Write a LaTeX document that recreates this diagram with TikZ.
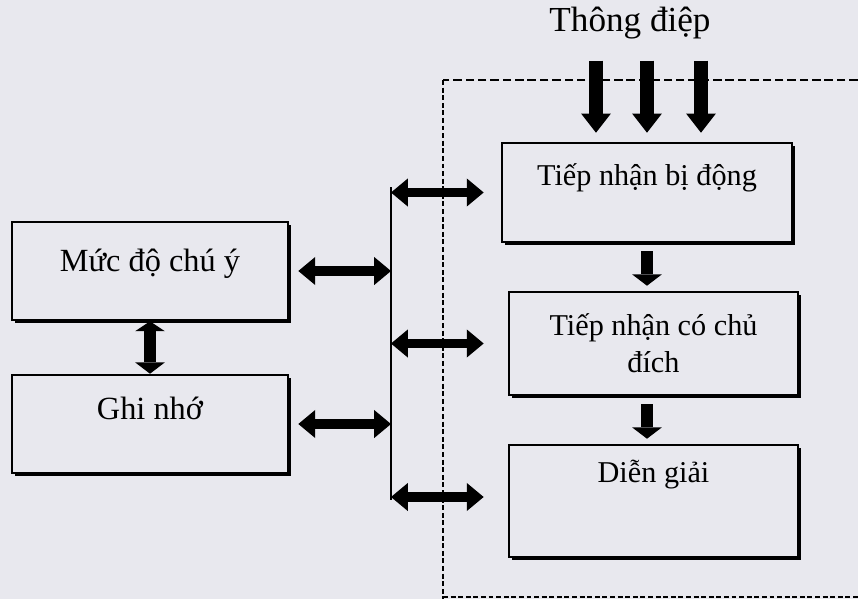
\documentclass[tikz,border=0pt]{standalone}
\usepackage{fontspec}
\setmainfont{Liberation Serif}
\usepackage{tikz}
\usetikzlibrary{arrows.meta,calc,shadows}
\definecolor{paper}{RGB}{232,232,238}

\begin{document}
\begin{tikzpicture}[%
    x=0.025cm, y=-0.025cm,
    box/.style={draw, line width=1.8pt, fill=paper, align=center,
        drop shadow={shadow xshift=2pt, shadow yshift=-2pt, fill=black, opacity=1}},
    rbox/.style={box, minimum width=7.225cm, font=\fontsize{21.5}{26.5}\selectfont},
    lbox/.style={box, minimum width=6.9cm, minimum height=2.45cm, font=\fontsize{23}{28}\selectfont},
    lift/.style={text height=0.5cm, text depth=#1},
    link/.style={{Triangle[width=20pt,length=12pt,line width=0pt]}-{Triangle[width=20pt,length=12pt,line width=0pt]}, line width=6.8pt},
    swap/.style={{Triangle[width=21pt,length=7pt,line width=0pt]}-{Triangle[width=21pt,length=8pt,line width=0pt]}, line width=9pt},
    flow/.style={-{Triangle[width=21pt,length=8pt,line width=0pt]}, line width=9pt},
    feed/.style={-{Triangle[width=21pt,length=13.5pt,line width=0pt]}, line width=10.6pt},
    bus/.style={line width=1.4pt},
    hframe/.style={line width=1.6pt, dash pattern=on 6pt off 2.8pt},
    vframe/.style={line width=1.6pt, dash pattern=on 3.5pt off 1.9pt}
    ]

    \useasboundingbox (0,0) rectangle (858,599);
    \clip (0,0) rectangle (858,599);
    \fill[paper] (0,0) rectangle (858,599);

    \draw[hframe] (870,80) -- (443,80);
    \draw[vframe] (443,80) -- (443,610);
    \draw[vframe] (443,597) -- (870,597);

    \node[anchor=base, font=\fontsize{25}{30}\selectfont] (msg) at (630,31.7) {Thông điệp};

    \node[rbox, minimum width=7.25cm, minimum height=2.475cm, lift=0.84cm] (passive) at (647,192.5) {Tiếp nhận bị động};
    \node[rbox, minimum height=2.575cm] (aimed) at (653.5,343.5) {Tiếp nhận có chủ\\đích};
    \node[rbox, minimum height=2.8cm, lift=1.415cm] (decode) at (653.5,501) {Diễn giải};
    \node[lbox, lift=0.465cm] (attention) at (150,271) {Mức độ chú ý};
    \node[lbox, lift=0.735cm] (memory) at (150,424) {Ghi nhớ};

    \coordinate (bustop) at (391,187);
    \coordinate (busend) at (391,500);
    \draw[bus] (bustop) -- (busend);

    \foreach \dx in {-51,0,54}
        \draw[feed] ($(passive.north)+(\dx,-81)$) -- ($(passive.north)+(\dx,-9)$);

    \draw[flow, shorten <=0.2cm, shorten >=0.125cm] (passive.south) -- (passive.south |- aimed.north);
    \draw[flow, shorten <=0.2cm, shorten >=0.125cm] (aimed.south -| passive.south) -- (decode.north -| passive.south);

    \draw[link, shorten >=0.425cm] (bustop |- passive.west) -- (passive.west);
    \draw[link, shorten >=0.6cm] (bustop |- aimed.west) -- (aimed.west);
    \draw[link, shorten >=0.6cm] ($(bustop |- decode.west)+(0,-4)$) -- ($(decode.west)+(0,-4)$);
    \draw[link, shorten <=0.225cm] (attention.east) -- (attention.east -| bustop);
    \draw[link, shorten <=0.225cm] (memory.east) -- (memory.east -| bustop);
    \draw[swap] (attention.south) -- (memory.north);

\end{tikzpicture}
\end{document}
